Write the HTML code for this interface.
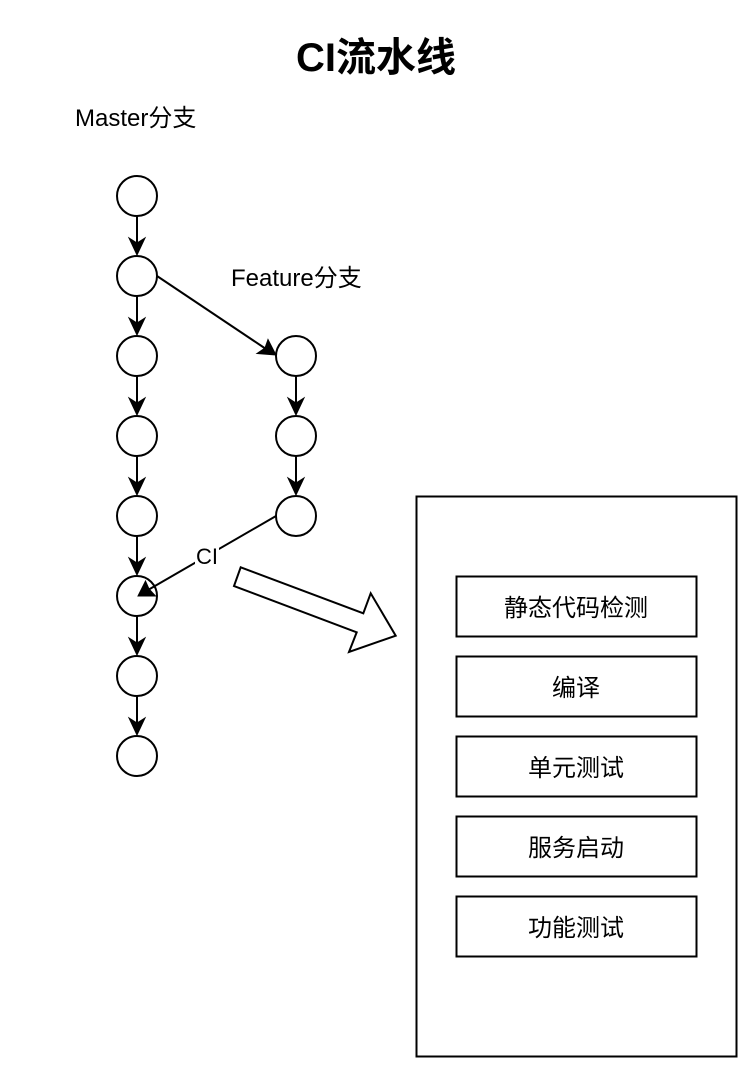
<!DOCTYPE html>
<html lang="zh">
<head>
<meta charset="utf-8">
<title>CI流水线</title>
<style>
html,body{margin:0;padding:0;background:#fff}
svg{display:block}
text{font-family:"Liberation Sans","Noto Sans CJK SC",sans-serif;fill:#000}
.t{font-size:24px}
.c{font-size:24px;text-anchor:middle}
</style>
</head>
<body>
<svg width="754" height="1074" viewBox="0 0 754 1074" xmlns="http://www.w3.org/2000/svg">
<rect width="754" height="1074" fill="#fff"/>
<text x="376" y="71" text-anchor="middle" style="font-size:40px;font-weight:bold">CI流水线</text>
<text class="t" x="75" y="126">Master分支</text>
<text class="t" x="231" y="286">Feature分支</text>

<g fill="#fff" stroke="#000" stroke-width="2">
<circle cx="137" cy="196" r="20"/>
<circle cx="137" cy="276" r="20"/>
<circle cx="137" cy="356" r="20"/>
<circle cx="137" cy="436" r="20"/>
<circle cx="137" cy="516" r="20"/>
<circle cx="137" cy="596" r="20"/>
<circle cx="137" cy="676" r="20"/>
<circle cx="137" cy="756" r="20"/>
<circle cx="296" cy="356" r="20"/>
<circle cx="296" cy="436" r="20"/>
<circle cx="296" cy="516" r="20"/>
</g>

<g stroke="#000" stroke-width="2" fill="none">
<path d="M137 216V245M137 296V325M137 376V405M137 456V485M137 536V565M137 616V645M137 696V725"/>
<path d="M296 376V405M296 456V485"/>
<path d="M157 276L266 349"/>
<path d="M276 516L148 590"/>
</g>
<g fill="#000" stroke="#000" stroke-width="1" stroke-linejoin="miter">
<path d="M137 255L129 238L137 243L145 238Z"/>
<path d="M137 335L129 318L137 323L145 318Z"/>
<path d="M137 415L129 398L137 403L145 398Z"/>
<path d="M137 495L129 478L137 483L145 478Z"/>
<path d="M137 575L129 558L137 563L145 558Z"/>
<path d="M137 655L129 638L137 643L145 638Z"/>
<path d="M137 735L129 718L137 723L145 718Z"/>
<path d="M296 415L288 398L296 403L304 398Z"/>
<path d="M296 495L288 478L296 483L304 478Z"/>
<path d="M276 355L257 353.5L265 348L268 339.5Z"/>
<path d="M138 596L145.5 581L149 589L155.5 596Z"/>
</g>

<rect x="195" y="543" width="24" height="26" fill="#fff"/>
<text x="207" y="564" text-anchor="middle" style="font-size:22px">CI</text>

<path d="M240.7 567.3L363.3 613.3L370.7 593.3L395.7 635.7L349 652L356.7 632.3L234 586Z" fill="#fff" stroke="#000" stroke-width="2" stroke-linejoin="miter"/>

<g fill="#fff" stroke="#000" stroke-width="2">
<rect x="416.5" y="496.5" width="320" height="560"/>
<rect x="456.5" y="576.5" width="240" height="60"/>
<rect x="456.5" y="656.5" width="240" height="60"/>
<rect x="456.5" y="736.5" width="240" height="60"/>
<rect x="456.5" y="816.5" width="240" height="60"/>
<rect x="456.5" y="896.5" width="240" height="60"/>
</g>
<text class="c" x="576" y="616">静态代码检测</text>
<text class="c" x="576" y="696">编译</text>
<text class="c" x="576" y="776">单元测试</text>
<text class="c" x="576" y="856">服务启动</text>
<text class="c" x="576" y="936">功能测试</text>
</svg>
</body>
</html>
